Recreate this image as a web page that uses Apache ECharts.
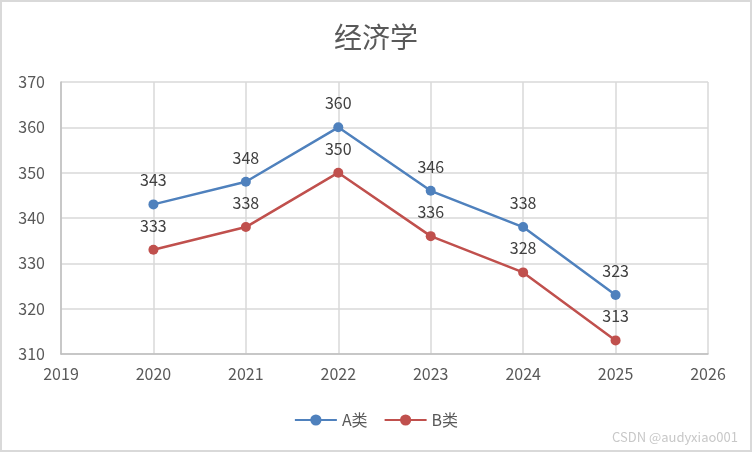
<!DOCTYPE html>
<html><head><meta charset="utf-8">
<script src="https://cdn.jsdelivr.net/npm/echarts@6/dist/echarts.min.js"></script>
<style>html,body{margin:0;padding:0;background:#fff}#c{width:752px;height:452px;box-sizing:border-box;border:2px solid #d9d9d9}</style>
</head><body><div id="c"></div>
<script>
const years = [2020, 2021, 2022, 2023, 2024, 2025];
const seriesA = [343, 348, 360, 346, 338, 323];
const seriesB = [333, 338, 350, 336, 328, 313];
const seriesNames = ['A类', 'B类'];
const titleText = '经济学';
const font = '"Microsoft YaHei","Noto Sans CJK SC","DejaVu Sans",sans-serif';
const chart = echarts.init(document.getElementById('c'), null, {renderer: 'canvas'});
function mk(name, vals, color) {
  return {
    name, type: 'line', data: years.map((y, i) => [y, vals[i]]),
    symbol: 'circle', symbolSize: 10,
    lineStyle: {color, width: 2.5}, itemStyle: {color},
    label: {show: true, position: 'top', distance: 11, color: '#404040', fontSize: 16, fontFamily: font}
  };
}
chart.setOption({
  animation: false,
  title: {text: titleText, left: 'center', top: 16, textStyle: {color: '#595959', fontSize: 28, fontWeight: 'normal', fontFamily: font}},
  legend: {bottom: 17, left: 'center', itemWidth: 42, itemHeight: 14, itemGap: 16,
    textStyle: {color: '#595959', fontSize: 16, fontFamily: font}},
  grid: {left: 59, right: 42, top: 80, bottom: 96},
  xAxis: {type: 'value', min: 2019, max: 2026, interval: 1,
    axisLine: {lineStyle: {color: '#bfbfbf', width: 1.5}}, axisTick: {show: false},
    splitLine: {show: true, lineStyle: {color: '#d9d9d9', width: 1.5}},
    axisLabel: {color: '#595959', fontSize: 16, fontFamily: font, margin: 12, formatter: v => String(v)}},
  yAxis: {type: 'value', min: 310, max: 370, interval: 10,
    axisLine: {show: true, lineStyle: {color: '#bfbfbf', width: 1.5}}, axisTick: {show: false},
    splitLine: {show: true, lineStyle: {color: '#d9d9d9', width: 1.5}},
    axisLabel: {color: '#595959', fontSize: 16, fontFamily: font, margin: 16}},
  graphic: [{type: 'text', right: 12, bottom: 6, style: {text: 'CSDN @audyxiao001', fill: '#c8c8c8', fontSize: 13, fontFamily: font}}],
  series: [mk(seriesNames[0], seriesA, '#4f81bd'), mk(seriesNames[1], seriesB, '#c0504d')]
});
</script></body></html>
